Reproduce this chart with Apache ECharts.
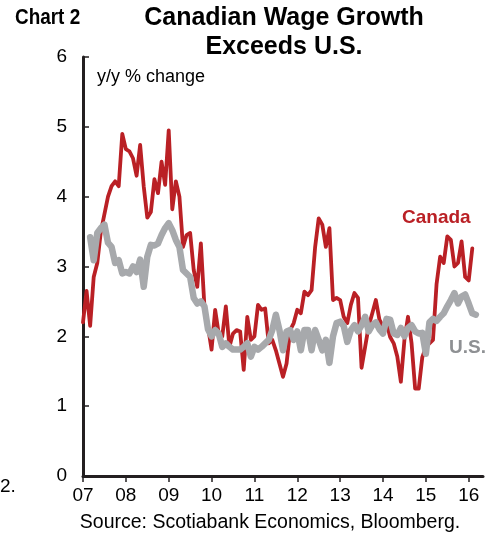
<!DOCTYPE html>
<html>
<head>
<meta charset="utf-8">
<script src="https://cdn.jsdelivr.net/npm/echarts@6/dist/echarts.min.js"></script>
<style>
html, body { margin: 0; padding: 0; background: #fff; }
#chart { width: 498px; height: 537px; }
</style>
</head>
<body>
<div id="chart"></div>
<script>
// monthly data, x axis runs Jan 2007 .. May 2016
const firstYear = 2007;
const axisMonths = 113;
const yearLabels = ['07', '08', '09', '10', '11', '12', '13', '14', '15', '16'];

// Canada y/y % change, from Jan 2007
const canada = [
  2.2, 2.65, 2.15, 2.85, 3.05, 3.5, 3.75, 4.0, 4.15, 4.22, 4.15, 4.9,
  4.68, 4.65, 4.55, 4.3, 4.74, 4.15, 3.7, 3.78, 4.25, 4.05, 4.5, 4.17,
  4.95, 3.82, 4.22, 4.0, 3.28, 3.45, 3.48, 2.95, 2.71, 3.33, 2.43, 2.14,
  1.81, 2.38, 2.04, 2.0, 2.43, 1.85, 2.04, 2.09, 2.07, 1.52, 2.28, 1.95,
  2.0, 2.45, 2.38, 2.4, 1.9, 1.95, 1.8, 1.61, 1.42, 1.61, 2.09, 2.19,
  2.38, 2.33, 2.64, 2.59, 2.66, 3.28, 3.69, 3.6, 3.28, 3.55, 2.52, 2.55,
  2.52, 2.28, 2.19, 2.45, 2.62, 2.55, 1.55, 1.85, 2.15, 2.33, 2.52, 2.24,
  2.14, 2.19, 1.99, 1.9, 1.71, 1.35, 1.95, 2.28, 1.9, 1.25, 1.25, 1.7,
  1.85, 1.9, 1.95, 2.75, 3.14, 3.05, 3.43, 3.38, 3.0, 3.05, 3.36, 2.85,
  2.8, 3.26
];

// U.S. y/y % change, from Mar 2007
const usStart = 2;
const us = [
  3.42, 3.09, 3.48, 3.55, 3.6, 3.34, 3.28, 3.05, 3.09, 2.9,
  2.92, 2.9, 3.0, 2.92, 3.1, 2.71, 3.14, 3.31, 3.3, 3.33, 3.45, 3.55,
  3.62, 3.52, 3.38, 3.28, 2.95, 2.9, 2.85, 2.55, 2.47, 2.5, 2.43, 2.1,
  2.0, 2.09, 2.04, 1.85, 1.9, 1.85, 1.81, 1.81, 1.81, 1.85, 1.9, 1.71,
  1.85, 1.81, 1.85, 1.9, 1.95, 2.09, 2.31, 2.09, 1.8, 2.07, 2.09, 1.95,
  2.07, 1.8, 2.09, 2.09, 1.8, 2.09, 1.95, 1.8, 1.95, 1.62, 2.0, 2.19,
  2.21, 2.15, 1.92, 2.09, 2.16, 2.07, 2.16, 2.28, 2.07, 2.16, 2.2, 2.1,
  2.04, 2.25, 2.24, 2.04, 2.02, 2.12, 2.0, 2.12, 2.16, 2.07, 2.04, 2.05,
  1.75, 2.2, 2.25, 2.22, 2.28, 2.33, 2.43, 2.52, 2.62, 2.47, 2.57, 2.6,
  2.47, 2.33, 2.31
];

const months = [];
for (let i = 0; i < axisMonths; i++) {
  const y = firstYear + Math.floor(i / 12);
  const m = (i % 12) + 1;
  months.push(y + '-' + (m < 10 ? '0' + m : m));
}
const canadaData = months.map((d, i) => (i < canada.length ? canada[i] : null));
const usData = months.map((d, i) => {
  const k = i - usStart;
  return k >= 0 && k < us.length ? us[k] : null;
});

const red = '#BA2025';
const grey = '#A7A9AC';
const font = "'Liberation Sans', Arial, sans-serif";

const chart = echarts.init(document.getElementById('chart'));
const option = {
  animation: false,
  backgroundColor: '#fff',
  grid: { left: 83, right: 15, top: 57, bottom: 61 },
  xAxis: {
    type: 'category',
    data: months,
    boundaryGap: false,
    axisLine: { lineStyle: { color: '#231f20', width: 3 } },
    axisTick: {
      interval: (i) => i % 12 === 0,
      length: 6,
      lineStyle: { color: '#231f20', width: 1.5 }
    },
    axisLabel: {
      interval: (i) => i % 12 === 0,
      formatter: (v, i) => yearLabels[Math.floor(i / 12)],
      color: '#000',
      fontFamily: font,
      fontSize: 19,
      margin: 10
    },
    splitLine: { show: false }
  },
  yAxis: {
    type: 'value',
    min: 0,
    max: 6,
    interval: 1,
    axisLine: { show: true, lineStyle: { color: '#231f20', width: 3 } },
    axisTick: { show: true, inside: true, length: 6, lineStyle: { color: '#231f20', width: 1.5 } },
    axisLabel: { color: '#000', fontFamily: font, fontSize: 19, margin: 16 },
    splitLine: { show: false }
  },
  series: [
    {
      name: 'Canada',
      type: 'line',
      data: canadaData,
      symbol: 'none',
      lineStyle: { color: red, width: 3.8, join: 'round', cap: 'round' },
      z: 2
    },
    {
      name: 'U.S.',
      type: 'line',
      data: usData,
      symbol: 'none',
      lineStyle: { color: grey, width: 6.5, join: 'round', cap: 'round' },
      z: 3
    }
  ],
  graphic: [
    {
      type: 'text', x: 15, y: 18, scaleX: 0.86,
      style: { text: 'Chart 2', fontFamily: font, fontWeight: 'bold', fontSize: 22, fill: '#000', align: 'left', verticalAlign: 'middle' }
    },
    {
      type: 'text', x: 284, y: 18,
      style: { text: 'Canadian Wage Growth', fontFamily: font, fontWeight: 'bold', fontSize: 25, fill: '#000', align: 'center', verticalAlign: 'middle' }
    },
    {
      type: 'text', x: 284, y: 47,
      style: { text: 'Exceeds U.S.', fontFamily: font, fontWeight: 'bold', fontSize: 25, fill: '#000', align: 'center', verticalAlign: 'middle' }
    },
    {
      type: 'text', x: 97, y: 77,
      style: { text: 'y/y % change', fontFamily: font, fontSize: 18, fill: '#000', align: 'left', verticalAlign: 'middle' }
    },
    {
      type: 'text', x: 402, y: 218,
      style: { text: 'Canada', fontFamily: font, fontWeight: 'bold', fontSize: 19, fill: red, align: 'left', verticalAlign: 'middle' }
    },
    {
      type: 'text', x: 449, y: 348,
      style: { text: 'U.S.', fontFamily: font, fontWeight: 'bold', fontSize: 19, fill: '#8E9093', align: 'left', verticalAlign: 'middle' }
    },
    {
      type: 'text', x: 0, y: 487,
      style: { text: '2.', fontFamily: font, fontSize: 19, fill: '#000', align: 'left', verticalAlign: 'middle' }
    },
    {
      type: 'text', x: 270, y: 523,
      style: { text: 'Source: Scotiabank Economics, Bloomberg.', fontFamily: font, fontSize: 19.5, fill: '#000', align: 'center', verticalAlign: 'middle' }
    }
  ]
};
chart.setOption(option);
</script>
</body>
</html>
